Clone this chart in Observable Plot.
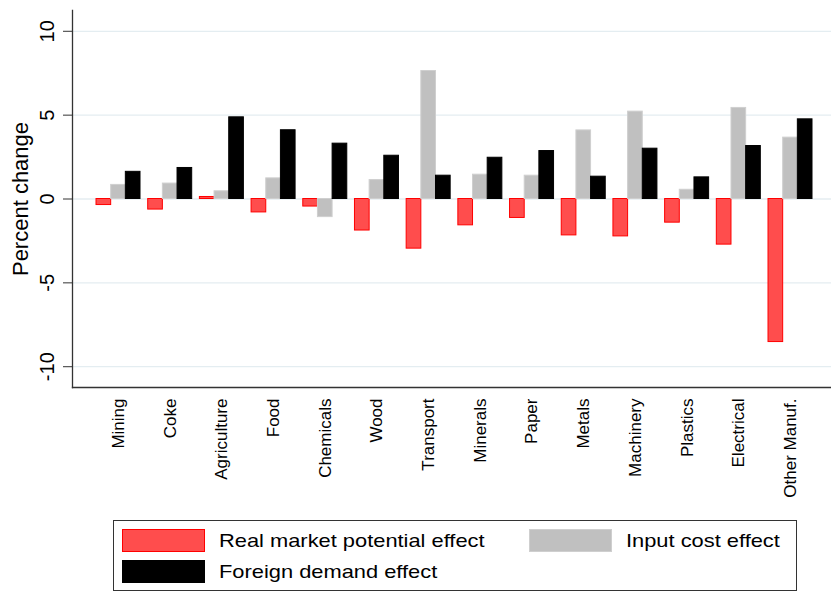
<!DOCTYPE html>
<html>
<head>
<meta charset="utf-8">
<script src="https://cdn.jsdelivr.net/npm/d3@7"></script>
<script src="https://cdn.jsdelivr.net/npm/@observablehq/plot@0.6"></script>
<style>
  body { margin:0; background:#fff; }
  #wrap { position:relative; width:831px; height:592px; font-family:"Liberation Sans", Arial, sans-serif; }
  #legend { position:absolute; left:113px; top:520px; width:684px; height:71px; border:1px solid #333; box-sizing:border-box; }
  .sw { position:absolute; width:83px; height:23px; box-sizing:border-box; }
  .lt { position:absolute; font-size:19px; color:#000; transform:scaleX(1.15); transform-origin:left center; white-space:nowrap; line-height:1; }
</style>
</head>
<body>
<div id="wrap"><div id="chart"></div><div id="legend"></div></div>
<script>
const categories = ["Mining","Coke","Agriculture","Food","Chemicals","Wood","Transport","Minerals","Paper","Metals","Machinery","Plastics","Electrical","Other Manuf."];
const series = ["Real market potential effect","Input cost effect","Foreign demand effect"];
const realMarket = [-0.36,-0.63,0.12,-0.80,-0.45,-1.88,-2.96,-1.57,-1.13,-2.17,-2.23,-1.41,-2.72,-8.53];
const inputCost = [0.84,0.92,0.46,1.23,-1.08,1.13,7.63,1.45,1.39,4.09,5.21,0.55,5.43,3.66];
const foreignDemand = [1.62,1.85,4.87,4.10,3.30,2.58,1.39,2.46,2.86,1.33,3.00,1.29,3.16,4.75];
const yTicks = [-10,-5,0,5,10];
const yTickLabels = ["-10","-5","0","5","10"];
const fills = ["#ff4d4d","#c0c0c0","#000000"];
const strokes = ["#ff0000","#cfcfcf","#000000"];

const values = [realMarket, inputCost, foreignDemand];
const barW = 0.2837; // bar width in category steps
const rows = categories.flatMap((c, i) => series.map((s, j) => ({
  idx:i, s:j, series:s, value:values[j][i],
  x1:i + (j - 1.5) * barW, x2:i + (j - 0.5) * barW
})));
const yLabelRows = yTicks.map((v, i) => ({v, label:yTickLabels[i]}));

const barMarks = series.map((s, j) => Plot.rectY(rows.filter(r => r.s === j), {
  x1:"x1", x2:"x2", y:"value", fill:fills[j], stroke:strokes[j], strokeWidth:1
}));

const chart = Plot.plot({
  width:831, height:515,
  marginLeft:72, marginRight:0, marginTop:10, marginBottom:128,
  style:{fontFamily:"Liberation Sans, Arial, sans-serif", background:"#fff", color:"#000"},
  x:{type:"linear", domain:[-0.89, 13.793], label:null},
  y:{domain:[-11.24,11.24], label:null},
  marks:[
    Plot.ruleY(yTicks, {stroke:"#e4edf1", strokeWidth:1.3}),
    ...barMarks,
    Plot.axisY({ticks:yTicks, tickSize:9, tickFormat:() => "", stroke:"#333", label:null}),
    Plot.text(yLabelRows, {y:"v", text:"label", frameAnchor:"left", rotate:-90, dx:-19, textAnchor:"middle", lineAnchor:"bottom", fontSize:20, fill:"#000"}),
    Plot.text(["Percent change"], {frameAnchor:"left", rotate:-90, dx:-60, textAnchor:"middle", lineAnchor:"top", fontSize:22}),
    Plot.axisX({ticks:d3.range(categories.length), tickFormat:i => categories[i], tickRotate:-90, tickSize:0, tickPadding:11, fontSize:17, label:null}),
    Plot.frame({anchor:"left", stroke:"#333", strokeWidth:1.3}),
    Plot.frame({anchor:"bottom", stroke:"#333", strokeWidth:1.3})
  ]
});
document.getElementById("chart").appendChild(chart);

const legend = document.getElementById("legend");
const items = [
  {i:0, left:8, top:8, tl:105},
  {i:1, left:415, top:8, tl:512},
  {i:2, left:8, top:39, tl:105}
];
for (const it of items) {
  const sw = document.createElement("div");
  sw.className = "sw";
  sw.style.left = it.left + "px"; sw.style.top = it.top + "px";
  sw.style.background = fills[it.i];
  sw.style.border = "1px solid " + strokes[it.i];
  legend.appendChild(sw);
  const t = document.createElement("div");
  t.className = "lt";
  t.textContent = series[it.i];
  t.style.left = it.tl + "px"; t.style.top = (it.top + 2) + "px";
  legend.appendChild(t);
}
</script>
</body>
</html>
